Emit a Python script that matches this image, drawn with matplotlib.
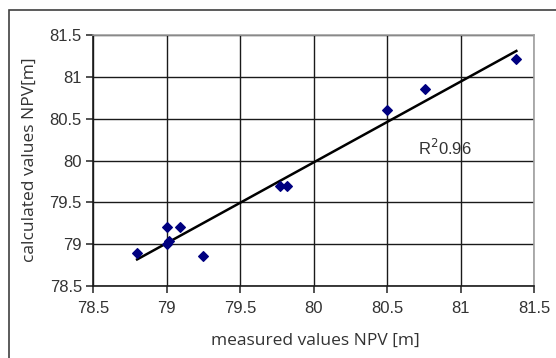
import matplotlib
matplotlib.use('Agg')
import matplotlib.pyplot as plt
from matplotlib.patches import Rectangle
import numpy as np

# measured vs calculated NPV values
measured = [78.80, 79.00, 79.09, 79.00, 79.02, 79.25, 79.77, 79.82, 80.50, 80.76, 81.38]
calculated = [78.89, 79.20, 79.20, 79.00, 79.04, 78.86, 79.70, 79.70, 80.60, 80.855, 81.21]
ticks = [78.5, 79, 79.5, 80, 80.5, 81, 81.5]
tick_labels = ['78.5', '79', '79.5', '80', '80.5', '81', '81.5']
r2_text = 'R$^2$0.96'

plt.rcParams['font.family'] = ['Liberation Sans', 'DejaVu Sans']

fig = plt.figure(figsize=(5.56, 3.58), dpi=100)
# outer chart frame
fig.patches.append(Rectangle((9 / 556, -0.05), 1.1, 1 - 10 / 358 + 0.05,
                             transform=fig.transFigure, fill=False,
                             edgecolor='#404040', linewidth=1.2))

ax = fig.add_axes([93 / 556, 1 - 286 / 358, 441 / 556, 251 / 358])

ax.grid(True, color='#1a1a1a', linewidth=1.0)
ax.set_axisbelow(True)

# linear trend line through the data
k, b = np.polyfit(measured, calculated, 1)
xs = np.array([min(measured), max(measured)])
ax.plot(xs, k * xs + b, color='black', linewidth=1.8, zorder=3)

ax.scatter(measured, calculated, marker='D', s=24, color='#000080', zorder=4)

ax.set_xlim(78.5, 81.5)
ax.set_ylim(78.5, 81.5)
ax.set_xticks(ticks)
ax.set_xticklabels(tick_labels)
ax.set_yticks(ticks)
ax.set_yticklabels(tick_labels)
ax.tick_params(axis='both', labelsize=12, colors='#333333', length=5, width=1.2)
ax.tick_params(axis='x', pad=6)
ax.tick_params(axis='y', pad=3)

for side in ['top', 'right']:
    ax.spines[side].set_color('#a0a0a0')
    ax.spines[side].set_linewidth(1.2)
for side in ['left', 'bottom']:
    ax.spines[side].set_color('#1a1a1a')
    ax.spines[side].set_linewidth(1.2)

ax.text(80.71, 80.15, r2_text, fontsize=12, color='#333333', va='center')

label_font = ['Open Sans', 'DejaVu Sans']
fig.text(30 / 556, 1 - 160 / 358, 'calculated values NPV[m]', rotation=90,
         ha='center', va='center', fontsize=12.5, color='#333333', family=label_font)
fig.text(315 / 556, 1 - 341 / 358, 'measured values NPV [m]', ha='center',
         va='center', fontsize=12.5, color='#333333', family=label_font)

fig.savefig('out.png', dpi=100)
